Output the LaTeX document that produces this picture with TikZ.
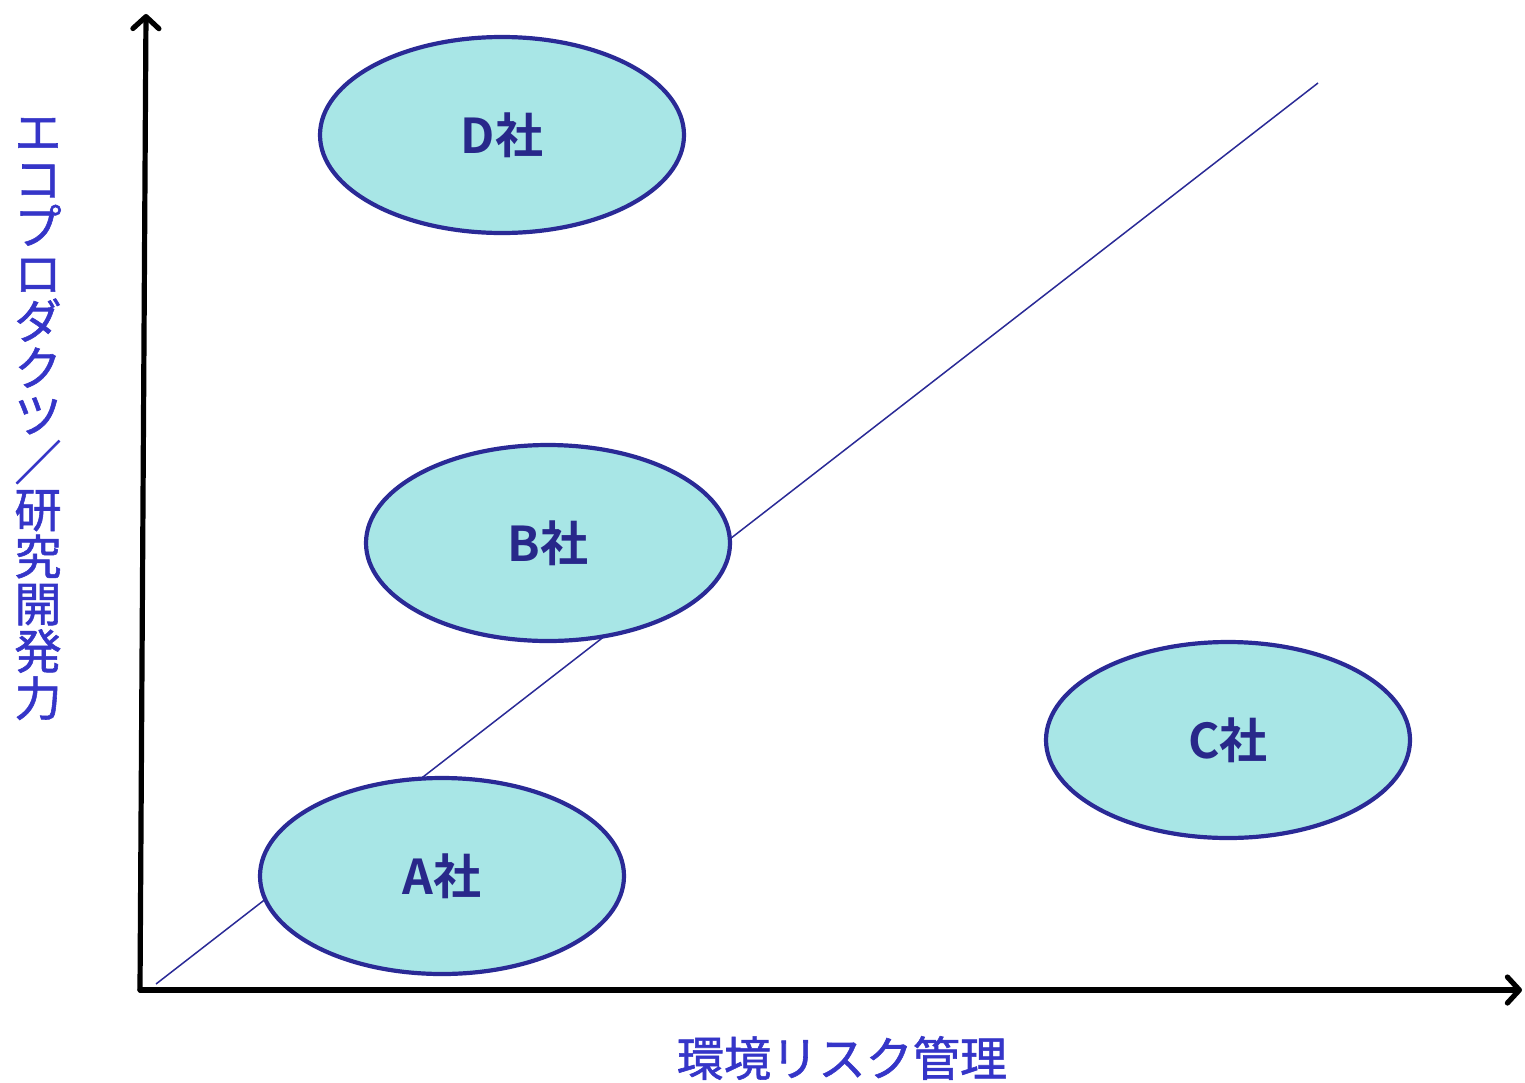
\documentclass[tikz,border=0pt]{standalone}
\usepackage{fontspec}
\newfontfamily\jpfont{Noto Sans CJK JP}[FakeBold=1.2]
\newfontfamily\jpbold{Noto Sans CJK JP Bold}
\usetikzlibrary{arrows.meta,shapes.geometric}
\definecolor{axisblue}{HTML}{3535C8}
\definecolor{rimblue}{HTML}{2A2A96}
\definecolor{firmfill}{HTML}{A8E6E6}
\definecolor{firmtext}{HTML}{28288A}
\begin{document}
\begin{tikzpicture}[x=0.5pt,y=-0.5pt,
  axis/.style={line width=2.6pt,line cap=round,-{Straight Barb[length=6pt,width=13pt,line cap=round,round]}},
  firm/.style={ellipse,draw=rimblue,line width=2.1pt,fill=firmfill,minimum width=182pt,minimum height=98pt,inner sep=0pt,
    font=\jpbold\fontsize{24}{26}\selectfont,text=firmtext},
  axislabel/.style={text=axisblue,font=\jpfont\fontsize{23.6}{23.6}\selectfont,inner sep=0pt}]
\useasboundingbox (0,0) rectangle (1525,1082);
% axes
\coordinate (origin) at (140,990);
\coordinate (ytop) at (146,14);
\coordinate (xend) at (1522,990);
\draw[axis] (origin) -- (ytop);
\draw[axis] (origin) -- (xend);
% trend line
\coordinate (tstart) at (156,984);
\coordinate (tend) at (1318,83);
\draw[rimblue,line width=0.75pt] (tstart) -- (tend);
% firms
\node[firm] (D) at (502,135) {\raisebox{-2.5pt}{D社}};
\node[firm] (B) at (548,543) {\raisebox{-2.5pt}{B社}};
\node[firm] (C) at (1228,740) {\raisebox{-2.5pt}{C社}};
\node[firm] (A) at (442,876) {\raisebox{-2.5pt}{A社}};
% axis labels
\node[axislabel] (xlab) at (842,1058) {環境リスク管理};
\node[axislabel,align=center] (ylab) at (38,419) {エ\\コ\\プ\\ロ\\ダ\\ク\\ツ\\／\\研\\究\\開\\発\\力};
\end{tikzpicture}
\end{document}
